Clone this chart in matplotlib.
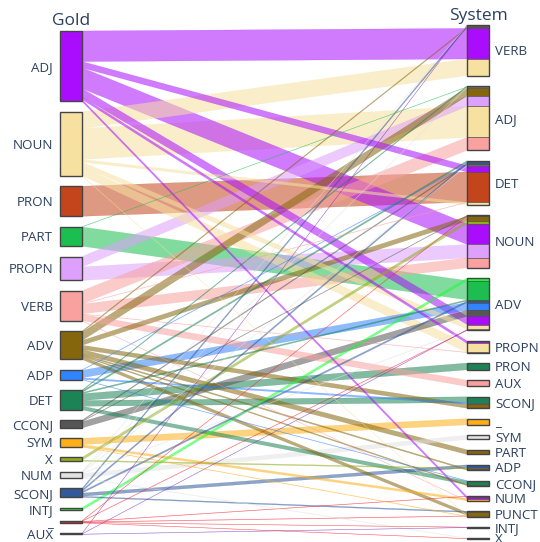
import matplotlib.pyplot as plt
from matplotlib.patches import Rectangle, Polygon

# categories as they are stacked top to bottom
gold_cats = ['ADJ', 'NOUN', 'PRON', 'PART', 'PROPN', 'VERB', 'ADV', 'ADP', 'DET',
             'CCONJ', 'SYM', 'X', 'NUM', 'SCONJ', 'INTJ', '_', 'AUX']
system_cats = ['VERB', 'ADJ', 'DET', 'NOUN', 'ADV', 'PROPN', 'PRON', 'AUX', 'SCONJ',
               '_', 'SYM', 'PART', 'ADP', 'CCONJ', 'NUM', 'PUNCT', 'INTJ', 'X']

# plotly "Alphabet" colours, assigned alphabetically
tag_colors = {
    'ADJ': '#AA0DFE', 'ADP': '#3283FE', 'ADV': '#85660D', 'AUX': '#782AB6',
    'CCONJ': '#565656', 'DET': '#1C8356', 'INTJ': '#16FF32', 'NOUN': '#F7E1A0',
    'NUM': '#E2E2E2', 'PART': '#1CBE4F', 'PRON': '#C4451C', 'PROPN': '#DEA0FD',
    'PUNCT': '#FE00FA', 'SCONJ': '#325A9B', 'SYM': '#FEAF16', 'VERB': '#F8A19F',
    'X': '#90AD1C', '_': '#F6222E',
}

# gold -> system counts, grouped by system tag in stacking order
flow_gold = [
    'AUX', 'NUM', 'SCONJ', 'ADV', 'ADJ', 'NOUN',                      # VERB
    'DET', 'PART', 'NUM', 'ADV', 'PROPN', 'NOUN', 'VERB',             # ADJ
    'DET', 'SCONJ', 'CCONJ', 'ADP', 'NUM', 'ADJ', 'PRON', 'VERB', 'NOUN',  # DET
    'CCONJ', '_', 'ADV', 'X', 'ADJ', 'PROPN', 'VERB',                 # NOUN
    'INTJ', 'PART', 'DET', 'SCONJ', 'ADP', 'CCONJ', 'ADJ', 'NOUN', 'NUM', 'AUX', '_',  # ADV
    'ADJ', 'NOUN', 'VERB',                                            # PROPN
    'DET',                                                            # PRON
    'VERB',                                                           # AUX
    'DET', 'ADP', 'ADV',                                              # SCONJ
    'SYM',                                                            # _
    'NUM',                                                            # SYM
    'ADV',                                                            # PART
    'SCONJ', 'X', 'ADV',                                              # ADP
    'ADP', 'DET', 'ADV',                                              # CCONJ
    '_', 'ADJ', 'SYM', 'VERB',                                        # NUM
    'SCONJ', 'ADV', 'NOUN', '_', 'SYM',                               # PUNCT
    '_', 'AUX',                                                       # INTJ
    'NUM', '_',                                                       # X
]
flow_system = (['VERB'] * 6 + ['ADJ'] * 7 + ['DET'] * 9 + ['NOUN'] * 7 + ['ADV'] * 11
               + ['PROPN'] * 3 + ['PRON'] + ['AUX'] + ['SCONJ'] * 3 + ['_'] + ['SYM']
               + ['PART'] + ['ADP'] * 3 + ['CCONJ'] * 3 + ['NUM'] * 4 + ['PUNCT'] * 5
               + ['INTJ'] * 2 + ['X'] * 2)
flow_count = [
    4, 4, 15, 10, 295, 160,
    8, 3, 5, 80, 100, 300, 125,
    15, 15, 10, 5, 4, 60, 290, 4, 25,
    4, 4, 45, 27, 200, 130, 94,
    25, 185, 12, 15, 72, 60, 80, 45, 5, 3, 4,
    25, 85, 4,
    65,
    60,
    55, 15, 40,
    60,
    40,
    45,
    30, 10, 12,
    4, 35, 10,
    4, 20, 20, 3,
    10, 30, 3, 4, 4,
    3, 3,
    4, 3,
]

text_color = '#2a3f5f'
plt.rcParams['font.family'] = ['Open Sans', 'DejaVu Sans']

fig = plt.figure(figsize=(5.4, 5.42), dpi=100)
ax = fig.add_axes([0, 0, 1, 1])
ax.set_xlim(0, 540)
ax.set_ylim(542, 0)
ax.axis('off')

xl0, xl1 = 60, 82      # gold column
xr0, xr1 = 467, 489    # system column
pad = 10.4
col_px = 337
scale = col_px / sum(flow_count)

def column(cats, keys, top):
    tot = {c: 0 for c in cats}
    for k, v in zip(keys, flow_count):
        tot[k] += v
    pos = {}
    y = top
    for c in cats:
        h = tot[c] * scale
        pos[c] = (y, y + h)
        y += h + pad
    return pos

gold_pos = column(gold_cats, flow_gold, 31)
sys_pos = column(system_cats, flow_system, 25)

n = len(flow_count)
# right side: stacked in list order; left side: stacked by system order
right_y = [None] * n
cur = {s: sys_pos[s][0] for s in system_cats}
for i in range(n):
    h = flow_count[i] * scale
    right_y[i] = (cur[flow_system[i]], cur[flow_system[i]] + h)
    cur[flow_system[i]] += h

left_y = [None] * n
cur = {g: gold_pos[g][0] for g in gold_cats}
for i in sorted(range(n), key=lambda k: (system_cats.index(flow_system[k]), k)):
    h = flow_count[i] * scale
    left_y[i] = (cur[flow_gold[i]], cur[flow_gold[i]] + h)
    cur[flow_gold[i]] += h

# bands, bigger ones underneath
for i in sorted(range(n), key=lambda k: -flow_count[k]):
    c = tag_colors[flow_gold[i]]
    (a0, a1), (b0, b1) = left_y[i], right_y[i]
    ax.add_patch(Polygon([(xl1, a0), (xr0, b0), (xr0, b1), (xl1, a1)], closed=True,
                         facecolor=c, edgecolor=c, lw=0.2, alpha=0.55))

# system bar segments
for i in range(n):
    b0, b1 = right_y[i]
    ax.add_patch(Rectangle((xr0, b0), xr1 - xr0, b1 - b0, facecolor=tag_colors[flow_gold[i]],
                           edgecolor='#444444', lw=0.4))

fs = 9.6
off = 0.36 * fs * 100 / 72
for g in gold_cats:
    y0, y1 = gold_pos[g]
    ax.add_patch(Rectangle((xl0, y0), xl1 - xl0, y1 - y0, facecolor=tag_colors[g],
                           edgecolor='#444444', lw=1))
    ax.text(53, (y0 + y1) / 2 + off, g, ha='right', va='baseline', fontsize=fs, color=text_color)
for s in system_cats:
    y0, y1 = sys_pos[s]
    ax.add_patch(Rectangle((xr0, y0), xr1 - xr0, y1 - y0, facecolor='none',
                           edgecolor='#444444', lw=1))
    ax.text(495, (y0 + y1) / 2 + off, s, ha='left', va='baseline', fontsize=fs, color=text_color)

ax.text((xl0 + xl1) / 2, gold_pos['ADJ'][0] - 6, 'Gold', ha='center', va='baseline',
        fontsize=12.5, color=text_color)
ax.text((xr0 + xr1) / 2, sys_pos['VERB'][0] - 5, 'System', ha='center', va='baseline',
        fontsize=12.5, color=text_color)

fig.savefig('out.png', dpi=100)
